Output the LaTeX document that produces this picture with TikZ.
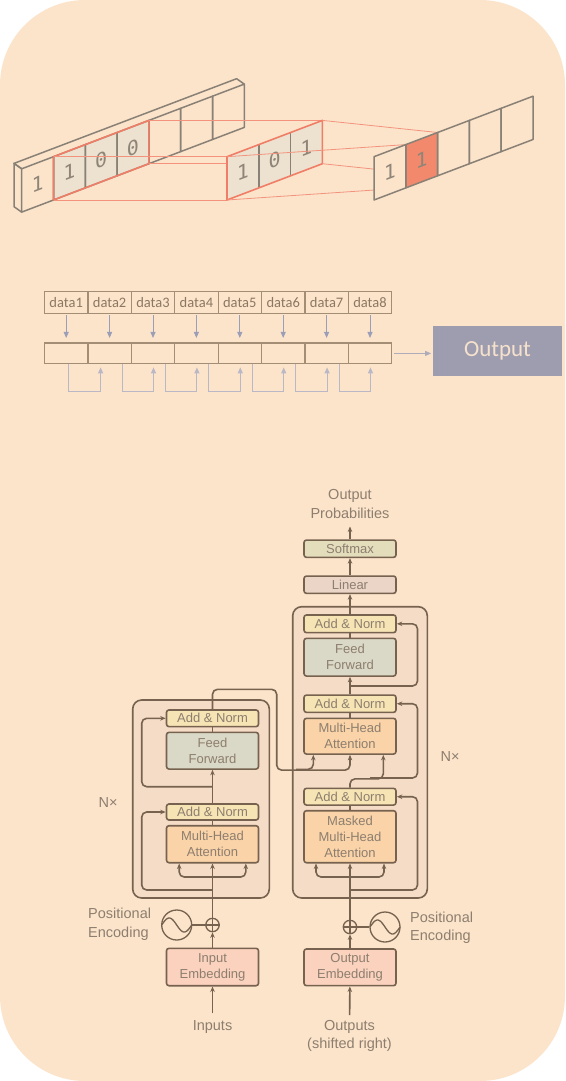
\documentclass[tikz,border=0pt]{standalone}
\usepackage{fontspec}
\setmainfont{Liberation Sans}
\newfontfamily\digitfont{DejaVu Sans Mono}
\newfontfamily\calfont{Carlito}
\usetikzlibrary{calc,arrows.meta}

\definecolor{peach}{HTML}{FCE4CB}
\definecolor{bargrey}{HTML}{8A8176}
\definecolor{winred}{HTML}{F07E66}
\definecolor{linkred}{HTML}{F3937E}
\definecolor{cellfill}{HTML}{EDE1D0}
\definecolor{hotcell}{HTML}{F2896C}
\definecolor{digitgrey}{HTML}{8E8578}
\definecolor{rowbrown}{HTML}{A38D74}
\definecolor{rowtext}{HTML}{8C7761}
\definecolor{dnblue}{HTML}{9A9EB7}
\definecolor{fbblue}{HTML}{BAB8C7}
\definecolor{outgrey}{HTML}{9E9DAF}
\definecolor{outtext}{HTML}{F6E2CC}
\definecolor{tbrown}{HTML}{76624F}
\definecolor{ttext}{HTML}{8D7E6F}
\definecolor{blockfill}{HTML}{F5DCC7}
\definecolor{addnorm}{HTML}{F6E4B4}
\definecolor{ffwd}{HTML}{DAD8C6}
\definecolor{mha}{HTML}{FAD4A8}
\definecolor{linr}{HTML}{EBD5C7}
\definecolor{smax}{HTML}{E4DDBC}
\definecolor{embed}{HTML}{FAD2BE}

\tikzset{
  strip/.style 2 args={shift={(#1,#2)}, x={(31.8pt,12.1pt)}, y={(0pt,43.3pt)}},
  cellline/.style={draw=bargrey, line width=1.5pt, line join=round},
  winline/.style={draw=winred, line width=1.6pt, line join=round},
  link/.style={draw=linkred, line width=0.8pt},
  digit/.style={text=digitgrey, yslant=0.38, inner sep=0, font=\digitfont\fontsize{20}{20}\selectfont},
  dcell/.style={draw=rowbrown, line width=1.2pt, minimum width=43.4pt, inner sep=0, text=rowtext, font=\calfont\fontsize{14.5}{16}\selectfont},
  dnarr/.style={draw=dnblue, line width=0.9pt, -{Triangle[length=6pt,width=5pt]}},
  fbarr/.style={draw=fbblue, line width=1.1pt, -{Triangle[length=6pt,width=5pt]}},
  tline/.style={draw=tbrown, line width=1.6pt},
  tarr/.style={tline, -{Stealth[length=5.5pt,width=4.5pt]}},
  tbox/.style={draw=tbrown, line width=1.6pt, rounded corners=2.5pt, minimum width=92pt, inner sep=0, align=center, text=ttext, font=\fontsize{13}{15.8}\selectfont},
  block/.style={draw=tbrown, line width=1.6pt, rounded corners=9pt, fill=blockfill, inner sep=0},
  tlabel/.style={text=ttext, font=\fontsize{14.5}{18.3}\selectfont, inner sep=2pt},
  pdot/.style={circle, draw=tbrown, line width=1.3pt, inner sep=0},
}

\begin{document}
\begin{tikzpicture}[x=1pt,y=-1pt]
	\useasboundingbox (0,0) rectangle (565,1081);
	\fill[white] (0,0) rectangle (565,1081);
	\fill[peach, rounded corners=85pt] (0,0) rectangle (565,1081);

	% corners of the kernel and of the result cell
	\path[strip={227}{200}] (0,0) coordinate (kBL) (3,0) coordinate (kBR) (0,1) coordinate (kTL) (3,1) coordinate (kTR);
	\path[strip={374}{200}] (1,0) coordinate (oBL) (2,0) coordinate (oBR) (1,1) coordinate (oTL) (2,1) coordinate (oTR);

	% input strip
	\begin{scope}[strip={21.7}{212.1}]
		\fill[cellfill] (1,0) -- (4,0) -- (4,1) -- (1,1) -- cycle;
		\draw[cellline] (0,1) -- ++(-7.7pt,5.4pt) -- ([shift={(-7.7pt,5.4pt)}]7,1) -- (7,1);
		\draw[cellline] (0,1) -- ++(-7.7pt,5.4pt) -- ([shift={(-7.7pt,5.4pt)}]0,0) -- (0,0);
		\foreach \i in {0,...,6}
			\draw[cellline] (\i,0) -- (\i+1,0) -- (\i+1,1) -- (\i,1) -- cycle;
		\draw[winline] (1,0) -- (4,0) -- (4,1) -- (1,1) -- cycle;
		\foreach \i/\v in {0/1, 1/1, 2/0, 3/0}
			\node[digit] at (\i+0.5,0.5) {\v};
		\coordinate (wBL) at (1,0);
		\coordinate (wBR) at (4,0);
		\coordinate (wTL) at (1,1);
		\coordinate (wTR) at (4,1);
	\end{scope}

	\draw[link] (wTL) -- (kTL) (wTR) -- (kTR) (wBR) -- (kBR) (wBL) -- (kBL);

	% kernel
	\begin{scope}[strip={227}{200}]
		\fill[cellfill] (0,0) -- (3,0) -- (3,1) -- (0,1) -- cycle;
		\draw[cellline] (1,0) -- (1,1) (2,0) -- (2,1);
		\draw[winline] (0,0) -- (3,0) -- (3,1) -- (0,1) -- cycle;
		\foreach \i/\v in {0/1, 1/0, 2/1}
			\node[digit] at (\i+0.5,0.5) {\v};
	\end{scope}

	\draw[link] (kTL) -- (oTL) (kTR) -- (oTR) (kBR) -- (oBR) (kBL) -- (oBL);

	% result strip
	\begin{scope}[strip={374}{200}]
		\fill[peach] (0,0) -- (5,0) -- (5,1) -- (0,1) -- cycle;
		\fill[hotcell] (1,0) -- (2,0) -- (2,1) -- (1,1) -- cycle;
		\foreach \i in {0,...,4}
			\draw[cellline] (\i,0) -- (\i+1,0) -- (\i+1,1) -- (\i,1) -- cycle;
		\node[digit] at (0.5,0.5) {1};
		\node[digit] at (1.5,0.5) {1};
	\end{scope}

	% data row and registers
	\foreach \i in {1,...,8} {
		\node[dcell, minimum height=22pt] (d\i) at ({44.5+43.4*(\i-0.5)},302.4) {data\i};
		\node[dcell, minimum height=20.7pt] (m\i) at ({44.5+43.4*(\i-0.5)},353.4) {};
		\draw[dnarr, shorten <=1pt, shorten >=4.5pt] (d\i) -- (m\i);
	}
	\foreach \a/\p/\q in {1/2.7/-9, 2/12.5/0.5, 3/12.5/0.5, 4/12.5/0.5, 5/12.5/0.5, 6/12.5/0.5, 7/12.5/0.5} {
		\pgfmathtruncatemacro{\b}{\a+1}
		\draw[fbarr, shorten >=3pt] ([xshift=\p pt]m\a.south) |- ([xshift=\q pt, yshift=-27pt]m\b.south) -- ([xshift=\q pt]m\b.south);
	}
	\node[fill=outgrey, minimum width=128.4pt, minimum height=50.3pt, text=outtext, font=\calfont\fontsize{23}{23}\selectfont] (out) at (497.5,350.9) {Output};
	\draw[dnarr, draw=dnblue!80!peach, shorten <=1.5pt, shorten >=2pt] (m8.east) -- (m8.east -| out.west);

	% transformer
	\node[block, minimum width=136.6pt, minimum height=198pt] (encB) at (201,799) {};
	\node[block, minimum width=134.6pt, minimum height=291.3pt] (decB) at (360,752.35) {};

	\node[tbox, fill=embed, minimum height=37.4pt] (encEmb) at (212.5,967) {Input\\Embedding};
	\node[tbox, fill=mha, minimum height=37pt] (encMHA) at (212.5,844.2) {Multi-Head\\Attention};
	\node[tbox, fill=addnorm, minimum height=16pt] (encAN1) at (212.5,812) {Add \& Norm};
	\node[tbox, fill=ffwd, minimum height=36.7pt] (encFF) at (212.5,750.7) {Feed\\Forward};
	\node[tbox, fill=addnorm, minimum height=16.7pt] (encAN2) at (212.5,718.3) {Add \& Norm};

	\node[tbox, fill=embed, minimum height=36.7pt] (decEmb) at (350,967.3) {Output\\Embedding};
	\node[tbox, fill=mha, minimum height=52pt] (decMMHA) at (350,836.7) {Masked\\Multi-Head\\Attention};
	\node[tbox, fill=addnorm, minimum height=16.7pt] (decAN1) at (350,796.7) {Add \& Norm};
	\node[tbox, fill=mha, minimum height=35.7pt] (decMHA) at (350,736.2) {Multi-Head\\Attention};
	\node[tbox, fill=addnorm, minimum height=17.3pt] (decAN2) at (350,703.7) {Add \& Norm};
	\node[tbox, fill=ffwd, minimum height=37.7pt] (decFF) at (350,657.2) {Feed\\Forward};
	\node[tbox, fill=addnorm, minimum height=17.7pt] (decAN3) at (350,623.8) {Add \& Norm};
	\node[tbox, fill=linr, minimum height=17.3pt] (lin) at (350,584.7) {Linear};
	\node[tbox, fill=smax, minimum height=17.3pt] (soft) at (350,548.7) {Softmax};

	\node[tlabel, align=center] (prob) at (350,504) {Output\\Probabilities};
	\node[tlabel] (encN) at (108,803) {N×};
	\node[tlabel] (decN) at (450,757) {N×};
	\node[tlabel] (inp) at (212.5,1027) {Inputs};
	\node[tlabel, align=center] (outp) at (349.5,1036) {Outputs\\(shifted right)};
	\node[tlabel, anchor=west, align=left] (encPos) at (86,924.2) {Positional\\Encoding};
	\node[tlabel, anchor=west, align=left] (decPos) at (408,927.5) {Positional\\Encoding};

	% positional encoding
	\node[pdot, minimum size=13.4pt] (encAdd) at (212.5,925) {};
	\node[pdot, minimum size=30pt] (encPE) at (176.7,925) {};
	\node[pdot, minimum size=13.4pt] (decAdd) at (350,927) {};
	\node[pdot, minimum size=30pt] (decPE) at (385,927) {};
	\draw[tbrown, line width=1.1pt] (encAdd.north) -- (encAdd.south) (encAdd.west) -- (encAdd.east);
	\draw[tbrown, line width=1.1pt] (decAdd.north) -- (decAdd.south) (decAdd.west) -- (decAdd.east);
	\draw[tbrown, line width=1.3pt] plot[domain=-1:1, samples=40] ({176.7+15*\x},{925+7*sin(180*\x)});
	\draw[tbrown, line width=1.3pt] plot[domain=-1:1, samples=40] ({385+15*\x},{927+7*sin(180*\x)});
	\draw[tline] (encPE) -- (encAdd);
	\draw[tline] (decPE) -- (decAdd);

	% encoder flow
	\draw[tarr, shorten <=5pt] (inp) -- (encEmb);
	\draw[tarr] (encEmb) -- (encAdd);
	\draw[tarr] (encAdd) -- (encMHA);
	\coordinate (eSplit) at (212.5,877);
	\draw[tarr, rounded corners=5pt] (eSplit) -| ([xshift=-33.3pt]encMHA.south);
	\draw[tarr, rounded corners=5pt] (eSplit) -| ([xshift=33.3pt]encMHA.south);
	\coordinate (eRes1) at (212.5,890);
	\draw[tarr, rounded corners=5pt] (eRes1) -| ([xshift=-24pt]encAN1.west) -- (encAN1.west);
	\draw[tline] (encMHA) -- (encAN1);
	\draw[tarr] (encAN1) -- (encFF);
	\coordinate (eRes2) at (212.5,786.7);
	\draw[tarr, rounded corners=5pt] (eRes2) -| ([xshift=-24pt]encAN2.west) -- (encAN2.west);
	\draw[tline] (encFF) -- (encAN2);
	\draw[tarr, rounded corners=5pt] (encAN2.north) |- (276.7,689.3) |- ([yshift=-15.3pt]decMHA.south) -- (decMHA.south);
	\coordinate (kvSplit) at (296,769.3);
	\draw[tarr, rounded corners=5pt] (kvSplit) -| ([xshift=-36.7pt]decMHA.south);

	% decoder flow
	\draw[tarr, shorten <=3pt] (outp) -- (decEmb);
	\draw[tarr] (decEmb) -- (decAdd);
	\draw[tarr] (decAdd) -- (decMMHA);
	\coordinate (dSplit) at (350,877);
	\draw[tarr, rounded corners=5pt] (dSplit) -| ([xshift=-34pt]decMMHA.south);
	\draw[tarr, rounded corners=5pt] (dSplit) -| ([xshift=34pt]decMMHA.south);
	\coordinate (dRes1) at (350,890);
	\draw[tarr, rounded corners=5pt] (dRes1) -| ([xshift=20.7pt]decAN1.east) -- (decAN1.east);
	\draw[tline] (decMMHA) -- (decAN1);
	\draw[tarr, rounded corners=5pt] (decAN1.north) |- ([xshift=33.3pt, yshift=-24pt]decMHA.south) -- ([xshift=33.3pt]decMHA.south);
	\coordinate (dRes2) at (370,778);
	\draw[tarr, rounded corners=5pt] (dRes2) -| ([xshift=20.7pt]decAN2.east) -- (decAN2.east);
	\draw[tline] (decMHA) -- (decAN2);
	\draw[tarr] (decAN2) -- (decFF);
	\coordinate (dRes3) at (350,686);
	\draw[tarr, rounded corners=5pt] (dRes3) -| ([xshift=20.7pt]decAN3.east) -- (decAN3.east);
	\draw[tline] (decFF) -- (decAN3);
	\draw[tarr] (decAN3) -- (lin);
	\draw[tarr] (lin) -- (soft);
	\draw[tarr, shorten >=6pt] (soft) -- (prob);
\end{tikzpicture}
\end{document}
